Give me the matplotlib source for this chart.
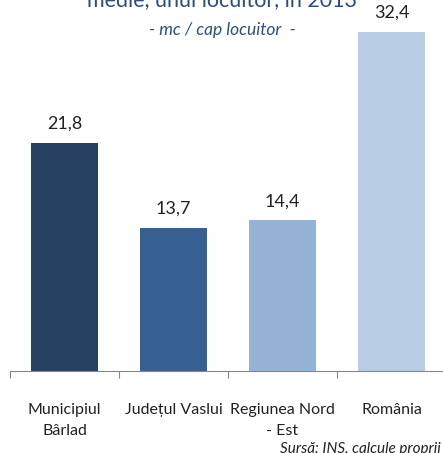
import matplotlib
matplotlib.use("Agg")
import matplotlib.pyplot as plt

categories = ["Municipiul\nBârlad", "Județul Vaslui", "Regiunea Nord\n- Est", "România"]
values = [21.8, 13.7, 14.4, 32.4]
value_labels = ["21,8", "13,7", "14,4", "32,4"]
colors = ["#264061", "#376092", "#95B3D7", "#B9CDE5"]

plt.rcParams['font.family'] = ['Lato', 'DejaVu Sans']

fig = plt.figure(figsize=(4.43, 4.53), dpi=100)
ax = fig.add_axes([10/443, 82/453, 436/443, 366/453])
x = list(range(len(values)))
ax.bar(x, values, width=0.62, color=colors)
ax.set_xlim(-0.5, 3.5)
ax.set_ylim(0, 35)
for xi, v, lab in zip(x, values, value_labels):
    ax.annotate(lab, (xi, v), xytext=(0, 8), textcoords="offset points",
                ha="center", va="bottom", fontsize=13, color="#222222")

for s in ["top", "right", "left"]:
    ax.spines[s].set_visible(False)
ax.spines["bottom"].set_color("#868686")
ax.set_yticks([])
ax.set_xticks([-0.5, 0.5, 1.5, 2.5, 3.5])
ax.set_xticklabels([])
ax.tick_params(axis="x", length=5, color="#868686", direction="out")
for xi, c in zip(x, categories):
    ax.text(xi, -0.088, c, transform=ax.get_xaxis_transform(), ha="center", va="top",
            fontsize=11.5, color="#222222", linespacing=1.6)

fig.text(222/443, 1 - 0/453, "medie, unui locuitor, în 2013", ha="center", va="center",
         fontsize=15.5, color="#2C4E7E")
fig.text(222/443, 1 - 30/453, "- mc / cap locuitor  -", ha="center", va="center",
         fontsize=12.5, style="italic", color="#2C4E7E")
fig.text(441/443, 1 - 449/453, "Sursă: INS, calcule proprii", ha="right", va="center",
         fontsize=11, style="italic", color="#222222")

fig.savefig("out.png", dpi=100)
